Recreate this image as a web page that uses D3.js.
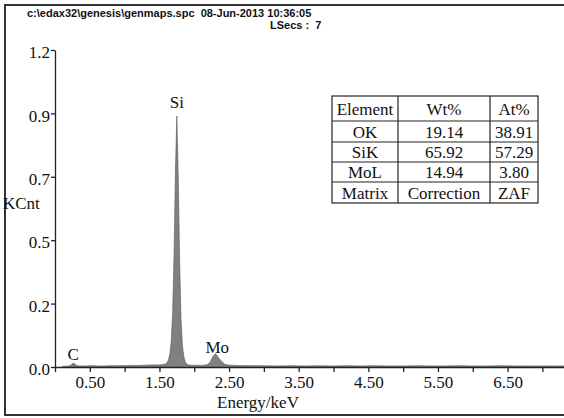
<!DOCTYPE html>
<html>
<head>
<meta charset="utf-8">
<script src="https://cdn.jsdelivr.net/npm/d3@7"></script>
<style>
  body { margin: 0; background: #fff; }
  #target svg { display: block; }
  .axis path, .axis line { stroke: #222; stroke-width: 1.3; }
  .axis text, .serif { font-family: "Times New Roman", "Liberation Serif", "DejaVu Serif", serif; font-size: 17px; fill: #111; }
  .head { font-family: Arial, "Liberation Sans", sans-serif; font-weight: bold; font-size: 11px; fill: #111; }
</style>
</head>
<body>
<div id="target"></div>
<script>
// spectrum channels (keV) and counts (KCnt)
let energy = [0.10, 0.15, 0.20, 0.22, 0.24, 0.26, 0.28, 0.30, 0.32, 0.36, 0.45, 0.50, 0.55, 0.60, 0.70, 0.80, 0.90, 1.00, 1.10, 1.20, 1.30, 1.40, 1.50, 1.55,
  1.57, 1.59, 1.61, 1.63, 1.65, 1.67, 1.69, 1.71, 1.73, 1.75, 1.77, 1.79, 1.81, 1.83, 1.85, 1.87, 1.89, 1.91, 1.95,
  2.00, 2.05, 2.10, 2.15, 2.19, 2.21, 2.23, 2.25, 2.27, 2.29, 2.31, 2.33, 2.35, 2.37, 2.39, 2.41, 2.43, 2.45, 2.50,
  2.60, 2.70, 2.80, 3.00, 3.20, 3.40, 3.60, 3.80, 4.00, 4.20, 4.40, 4.60, 4.80, 5.00, 5.20, 5.40, 5.60, 5.80, 6.00,
  6.20, 6.40, 6.60, 6.80, 7.00, 7.20, 7.31];
let kcnt = [0.002, 0.003, 0.004, 0.006, 0.010, 0.014, 0.013, 0.008, 0.005, 0.004, 0.004, 0.005, 0.005, 0.004, 0.004, 0.005, 0.005, 0.005, 0.006, 0.006, 0.007, 0.008, 0.008, 0.009,
  0.010, 0.012, 0.017, 0.027, 0.050, 0.10, 0.21, 0.43, 0.75, 0.95, 0.72, 0.40, 0.18, 0.08, 0.040, 0.020, 0.012, 0.008, 0.007,
  0.006, 0.007, 0.006, 0.007, 0.009, 0.013, 0.020, 0.030, 0.040, 0.047, 0.050, 0.042, 0.034, 0.028, 0.023, 0.017, 0.012, 0.009, 0.007,
  0.006, 0.005, 0.005, 0.005, 0.004, 0.005, 0.004, 0.005, 0.004, 0.005, 0.004, 0.005, 0.004, 0.004, 0.005, 0.004, 0.004, 0.005, 0.004,
  0.004, 0.005, 0.004, 0.004, 0.004, 0.004, 0.004];

let yTicks = [0, 0.24, 0.48, 0.72, 0.96, 1.2];
let yLabels = ["0.0", "0.2", "0.5", "0.7", "0.9", "1.2"];
let xTicks = [0, 0.5, 1, 1.5, 2, 2.5, 3, 3.5, 4, 4.5, 5, 5.5, 6, 6.5, 7];
let xLabeled = [0.5, 1.5, 2.5, 3.5, 4.5, 5.5, 6.5];

let peakNames = ["C", "Si", "Mo"];
let peakEnergy = [0.26, 1.75, 2.33];
let peakLabelAt = [0.026, 0.98, 0.053];

let tableHead = ["Element", "Wt%", "At%"];
let tableRows = [
  ["OK", "19.14", "38.91"],
  ["SiK", "65.92", "57.29"],
  ["MoL", "14.94", "3.80"],
  ["Matrix", "Correction", "ZAF"]
];

let width = 564,
  height = 418,
  margin = { top: 50, left: 55 },
  chartWidth = 509,
  chartHeight = 317;

let svg = d3.select("#target").append("svg")
  .attr("width", width)
  .attr("height", height);

// frame
svg.append("path")
  .attr("d", "M566,5H5V415H566")
  .attr("fill", "none")
  .attr("stroke", "#333")
  .attr("stroke-width", 2);

svg.append("text")
  .attr("class", "head")
  .attr("x", 27).attr("y", 17)
  .attr("xml:space", "preserve")
  .text("c:\\edax32\\genesis\\genmaps.spc  08-Jun-2013 10:36:05");
svg.append("text")
  .attr("class", "head")
  .attr("x", 270).attr("y", 29)
  .attr("xml:space", "preserve")
  .text("LSecs :  7");

let g = svg.append("g")
  .attr("transform", "translate(" + margin.left + "," + margin.top + ")");

let x = d3.scaleLinear().domain([0, 7.31]).range([0, chartWidth]);
let y = d3.scaleLinear().domain([0, 1.2]).range([chartHeight, 0]);

let spectrum = energy.map((e, i) => ({ e: e, v: kcnt[i] }));

let area = d3.area()
  .x(d => x(d.e))
  .y0(y(0))
  .y1(d => y(d.v));

g.append("path")
  .datum(spectrum)
  .attr("fill", "#808080")
  .attr("d", area);

g.append("path")
  .datum(spectrum)
  .attr("fill", "none")
  .attr("stroke", "#555")
  .attr("stroke-width", 0.6)
  .attr("d", d3.line().x(d => x(d.e)).y(d => y(d.v)));

let xAxis = d3.axisBottom(x)
  .tickValues(xTicks)
  .tickSize(5)
  .tickSizeOuter(0)
  .tickPadding(4)
  .tickFormat(d => xLabeled.indexOf(d) >= 0 ? d3.format(".2f")(d) : "");

let yAxis = d3.axisLeft(y)
  .tickValues(yTicks)
  .tickSize(4)
  .tickSizeOuter(0)
  .tickPadding(1)
  .tickFormat((d, i) => yLabels[i]);

g.append("g")
  .attr("class", "x axis")
  .attr("transform", "translate(0," + chartHeight + ")")
  .call(xAxis);

g.append("g")
  .attr("class", "y axis")
  .call(yAxis);

g.selectAll(".axis").attr("font-family", null).attr("font-size", null);
g.selectAll(".y.axis .tick text").attr("dy", "0.45em");

g.append("text")
  .attr("class", "serif")
  .attr("x", 258 - margin.left)
  .attr("y", 408 - margin.top)
  .attr("text-anchor", "middle")
  .text("Energy/keV");

svg.append("text")
  .attr("class", "serif")
  .attr("x", 3)
  .attr("y", 209)
  .text("KCnt");

// peak labels
g.selectAll(".peak")
  .data(peakNames)
  .enter().append("text")
  .attr("class", "peak serif")
  .attr("x", (d, i) => x(peakEnergy[i]))
  .attr("y", (d, i) => y(peakLabelAt[i]))
  .attr("text-anchor", "middle")
  .text(d => d);

// results table
let colX = [332, 398, 490, 538];
let rowY = [96, 121, 142, 162, 182, 203];
let table = svg.append("g").attr("class", "table");
let allRows = [tableHead].concat(tableRows);

table.append("rect")
  .attr("x", colX[0]).attr("y", rowY[0])
  .attr("width", colX[3] - colX[0]).attr("height", rowY[5] - rowY[0])
  .attr("fill", "#fff").attr("stroke", "#222").attr("stroke-width", 1.2);

table.selectAll(".hline")
  .data(rowY.slice(1, 5))
  .enter().append("line")
  .attr("x1", colX[0]).attr("x2", colX[3])
  .attr("y1", d => d).attr("y2", d => d)
  .attr("stroke", "#222").attr("stroke-width", 1.2);

table.selectAll(".vline")
  .data(colX.slice(1, 3))
  .enter().append("line")
  .attr("x1", d => d).attr("x2", d => d)
  .attr("y1", rowY[0]).attr("y2", rowY[5])
  .attr("stroke", "#222").attr("stroke-width", 1.2);

allRows.forEach((row, r) => {
  row.forEach((cell, c) => {
    table.append("text")
      .attr("class", "serif")
      .attr("x", (colX[c] + colX[c + 1]) / 2)
      .attr("y", (rowY[r] + rowY[r + 1]) / 2 + 6)
      .attr("text-anchor", "middle")
      .text(cell);
  });
});
</script>
</body>
</html>
